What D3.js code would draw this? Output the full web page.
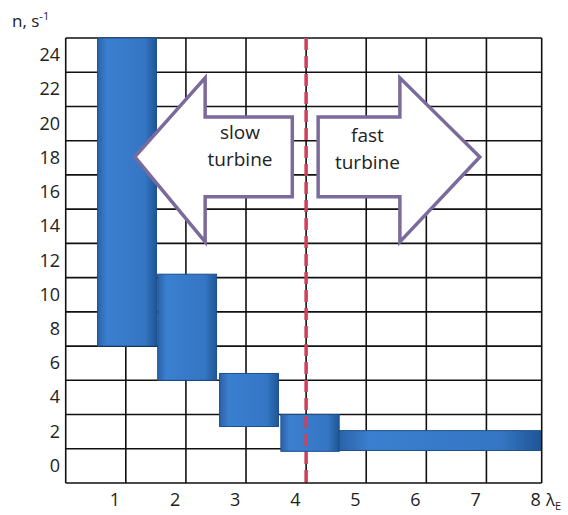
<!DOCTYPE html>
<html>
<head>
<meta charset="utf-8">
<script src="https://d3js.org/d3.v7.min.js"></script>
<style>
  body { margin: 0; background: #fff; }
  text { font-family: "Open Sans", "Liberation Sans", sans-serif; }
</style>
</head>
<body>
<script>
// tick labels
var yTicks = [0, 2, 4, 6, 8, 10, 12, 14, 16, 18, 20, 22, 24];
var xTicks = [1, 2, 3, 4, 5, 6, 7, 8];
// bars: [x0, x1, bottom, top]
var barX0 = [0.71, 1.71, 2.74, 3.76, 4.73];
var barX1 = [1.69, 2.69, 3.72, 4.73, 8.08];
var barLo = [7.0, 5.0, 2.3, 0.85, 0.9];
var barHi = [25, 11.2, 5.4, 3.0, 2.06];
var limitX = 4.18;

var svg = d3.select("body").append("svg").attr("width", 568).attr("height", 515);
var x = d3.scaleLinear().domain([1, 8]).range([115, 535.7]);
var y = d3.scaleLinear().domain([-1, 25]).range([483, 38]);

var defs = svg.append("defs");
var g = defs.append("linearGradient").attr("id", "bg");
g.append("stop").attr("offset", "0%").attr("stop-color", "#2a62a8");
g.append("stop").attr("offset", "15%").attr("stop-color", "#3b7fd0");
g.append("stop").attr("offset", "80%").attr("stop-color", "#3576c4");
g.append("stop").attr("offset", "100%").attr("stop-color", "#1f5696");

// grid
var gx = [0.18, 1.18, 2.18, 3.18, 4.18, 5.18, 6.18, 7.18, 8.1];
var gy = d3.range(-1, 26, 2);
svg.selectAll("line.v").data(gx).enter().append("line")
  .attr("x1", d => x(d)).attr("x2", d => x(d)).attr("y1", y(25)).attr("y2", y(-1))
  .attr("stroke", "#111").attr("stroke-width", 1.6);
svg.selectAll("line.h").data(gy).enter().append("line")
  .attr("x1", x(0.18)).attr("x2", x(8.1)).attr("y1", d => y(d)).attr("y2", d => y(d))
  .attr("stroke", "#111").attr("stroke-width", 1.6);

// bars
svg.selectAll("rect.bar").data(barX0).enter().append("rect")
  .attr("x", (d, i) => x(d)).attr("width", (d, i) => x(barX1[i]) - x(d))
  .attr("y", (d, i) => y(barHi[i])).attr("height", (d, i) => y(barLo[i]) - y(barHi[i]))
  .attr("fill", "url(#bg)").attr("stroke", "#1d4f8c").attr("stroke-width", 1);

// limit line
svg.append("line").attr("x1", x(limitX)).attr("x2", x(limitX)).attr("y1", y(25)).attr("y2", y(-1.2))
  .attr("stroke", "#d0405a").attr("stroke-width", 3.5).attr("stroke-dasharray", "12,6");

// arrows
var slow = [[1.33, 18.05], [2.5, 22.67], [2.5, 20.39], [3.95, 20.39], [3.95, 15.72], [2.5, 15.72], [2.5, 13.09]];
var fast = [[7.07, 18.05], [5.74, 22.67], [5.74, 20.39], [4.38, 20.39], [4.38, 15.72], [5.74, 15.72], [5.74, 13.09]];
[slow, fast].forEach(function (p) {
  svg.append("path").attr("d", d3.line().x(d => x(d[0])).y(d => y(d[1]))(p) + "Z")
    .attr("fill", "#fff").attr("stroke", "#7b6a9c").attr("stroke-width", 3.5).attr("stroke-linejoin", "miter");
});
function label(lines, cx, cy) {
  lines.forEach(function (t, i) {
    svg.append("text").attr("x", x(cx)).attr("y", y(cy) + i * 27).attr("text-anchor", "middle")
      .attr("font-size", 19).attr("fill", "#222").text(t);
  });
}
label(["slow", "turbine"], 3.08, 19.1);
label(["fast", "turbine"], 5.2, 18.9);

// axes labels
svg.selectAll("text.yt").data(yTicks).enter().append("text")
  .attr("x", 60).attr("y", d => y(d) + 6).attr("text-anchor", "end")
  .attr("font-size", 18).attr("fill", "#222").text(d => d);
svg.selectAll("text.xt").data(xTicks).enter().append("text")
  .attr("x", d => x(d)).attr("y", 506).attr("text-anchor", "middle")
  .attr("font-size", 18).attr("fill", "#222").text(d => d);
var yl = svg.append("text").attr("x", 12).attr("y", 27).attr("font-size", 17).attr("fill", "#222");
yl.append("tspan").text("n, s");
yl.append("tspan").attr("dy", -7).attr("font-size", 11).text("-1");
var xl = svg.append("text").attr("x", 546).attr("y", 506).attr("font-size", 17).attr("fill", "#222");
xl.append("tspan").text("λ");
xl.append("tspan").attr("dy", 4).attr("font-size", 11).text("E");
</script>
</body>
</html>
